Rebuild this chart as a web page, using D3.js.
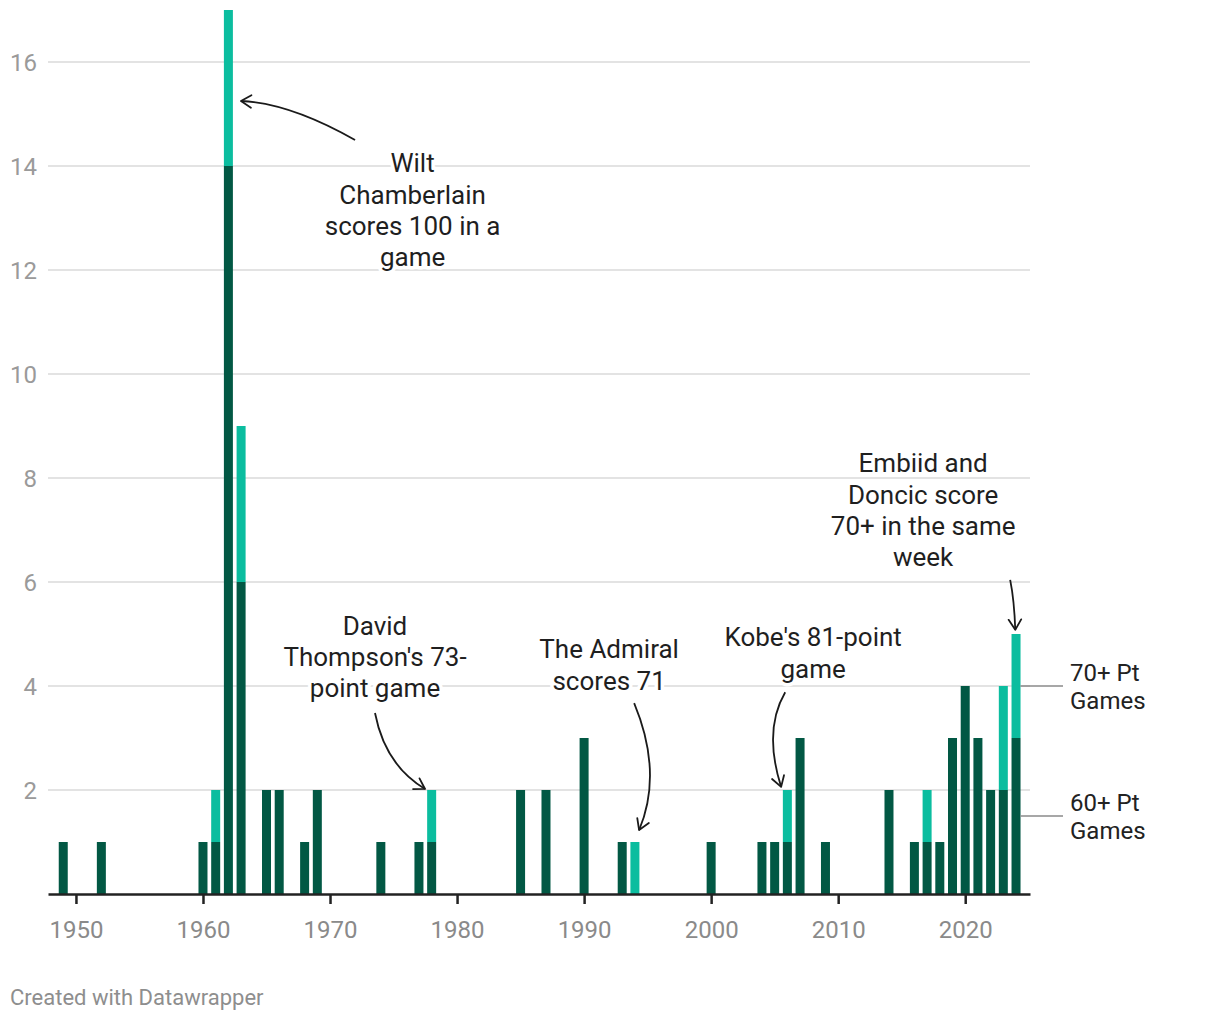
<!DOCTYPE html>
<html>
<head>
<meta charset="utf-8">
<script src="https://cdn.jsdelivr.net/npm/d3@7"></script>
<style>
  html, body { margin: 0; padding: 0; background: #fff; }
  svg { display: block; font-family: Roboto, "Noto Sans", sans-serif; }
</style>
</head>
<body>
<svg id="chart" width="1220" height="1020"></svg>
<script>
// ---- data ----
const years = [1949,1952,1960,1961,1962,1963,1965,1966,1968,1969,1974,1977,1978,1985,1987,1990,1993,1994,2000,2004,2005,2006,2007,2009,2014,2016,2017,2018,2019,2020,2021,2022,2023,2024];
const games60 = [1,1,1,1,14,6,2,2,1,2,1,1,1,2,2,3,1,0,1,1,1,1,3,1,2,1,1,1,3,4,3,2,2,3];
const games70 = [0,0,0,1,3,3,0,0,0,0,0,0,1,0,0,0,0,1,0,0,0,1,0,0,0,0,1,0,0,0,0,0,2,2];
const seriesNames = ["60+ Pt Games", "70+ Pt Games"];
const yTicks = [2,4,6,8,10,12,14,16];
const xTicks = [1950,1960,1970,1980,1990,2000,2010,2020];
const annotations = [
  {lines:["Wilt","Chamberlain","scores 100 in a","game"], x:1976.5, y:14.06,
   arrow:{s:[1971.97,14.5], c:[1966.85,15.21], e:[1962.99,15.25]}},
  {lines:["David","Thompson's 73-","point game"], x:1973.54, y:5.17,
   arrow:{s:[1973.54,3.48], c:[1974.33,2.48], e:[1977.48,2.02]}},
  {lines:["The Admiral","scores 71"], x:1991.97, y:4.71,
   arrow:{s:[1993.94,3.67], c:[1996.22,2.33], e:[1994.33,1.23]}},
  {lines:["Kobe's 81-point","game"], x:2008.03, y:4.94,
   arrow:{s:[2005.83,3.88], c:[2004.09,3.15], e:[2005.51,2.06]}},
  {lines:["Embiid and","Doncic score","70+ in the same","week"], x:2016.69, y:8.29,
   arrow:{s:[2023.54,6.04], c:[2023.86,5.65], e:[2023.94,5.08]}}
];
const footer = "Created with Datawrapper";

// ---- layout ----
const colors = ["#025844", "#0bbd9f"];
const svg = d3.select("#chart");
const x = d3.scaleLinear().domain([1947.8, 2025.1]).range([48, 1030]);
const y = d3.scaleLinear().domain([0, 17]).range([894, 10]);
const barW = 9;

const rows = years.map((yr, i) => ({year: yr, a: games60[i], b: games70[i]}));

// gridlines
svg.append("g").selectAll("line").data(yTicks).join("line")
  .attr("x1", x.range()[0]).attr("x2", x.range()[1])
  .attr("y1", d => y(d)).attr("y2", d => y(d))
  .attr("stroke", "#e3e3e3").attr("stroke-width", 2);

// y labels
svg.append("g").selectAll("text").data(yTicks).join("text")
  .attr("x", 37).attr("y", d => y(d)).attr("dy", "0.36em")
  .attr("text-anchor", "end").attr("font-size", 24).attr("fill", "#9a9a9a")
  .text(d => d);

// bars (stacked)
const stack = d3.stack().keys(["a","b"])(rows);
svg.append("g").selectAll("g").data(stack).join("g")
  .attr("fill", (d, i) => colors[i])
  .selectAll("rect").data(d => d.filter(v => v[1] > v[0])).join("rect")
  .attr("x", d => x(d.data.year) - barW / 2)
  .attr("width", barW)
  .attr("y", d => y(d[1]))
  .attr("height", d => y(d[0]) - y(d[1]));

// x axis
const xAxis = svg.append("g").attr("transform", `translate(0,${y(0)})`)
  .call(d3.axisBottom(x).tickValues(xTicks).tickFormat(d3.format("d"))
    .tickSizeInner(10).tickSizeOuter(0).tickPadding(17));
xAxis.select(".domain").attr("stroke", "#222").attr("stroke-width", 2.5);
xAxis.selectAll(".tick line").attr("stroke", "#222").attr("stroke-width", 2.5);
xAxis.selectAll(".tick text").attr("font-size", 24).attr("fill", "#8a8a8a")
  .attr("font-family", "Roboto, sans-serif");

// annotations
const lh = 31.3;
const ag = svg.append("g");
annotations.forEach(a => {
  const t = ag.append("text")
    .attr("text-anchor", "middle").attr("font-size", 26).attr("fill", "#1f1f1f")
    .attr("stroke", "#fff").attr("stroke-width", 7).attr("stroke-linejoin", "round")
    .attr("paint-order", "stroke");
  a.lines.forEach((ln, i) => {
    t.append("tspan").attr("x", x(a.x)).attr("y", y(a.y) + i * lh).attr("dy", "0.36em").text(ln);
  });
  const s = [x(a.arrow.s[0]), y(a.arrow.s[1])];
  const c = [x(a.arrow.c[0]), y(a.arrow.c[1])];
  const e = [x(a.arrow.e[0]), y(a.arrow.e[1])];
  const p = d3.path();
  p.moveTo(s[0], s[1]);
  p.quadraticCurveTo(c[0], c[1], e[0], e[1]);
  const ang = Math.atan2(e[1] - c[1], e[0] - c[0]);
  const L = 12, spread = 0.55;
  const h = d3.path();
  h.moveTo(e[0] - L * Math.cos(ang - spread), e[1] - L * Math.sin(ang - spread));
  h.lineTo(e[0], e[1]);
  h.lineTo(e[0] - L * Math.cos(ang + spread), e[1] - L * Math.sin(ang + spread));
  ag.append("path").attr("d", p.toString()).attr("fill", "none")
    .attr("stroke", "#1a1a1a").attr("stroke-width", 1.8);
  ag.append("path").attr("d", h.toString()).attr("fill", "none")
    .attr("stroke", "#1a1a1a").attr("stroke-width", 1.8).attr("stroke-linejoin", "round").attr("stroke-linecap", "round");
});

// direct labels for series (on last bar)
const last = rows[rows.length - 1];
const labelY = [y(last.a / 2), y(last.a + last.b / 2)];
const lg = svg.append("g");
seriesNames.forEach((name, i) => {
  lg.append("line").attr("x1", x(last.year) + barW / 2).attr("x2", 1063)
    .attr("y1", labelY[i]).attr("y2", labelY[i])
    .attr("stroke", "#8a8a8a").attr("stroke-width", 1.5);
  const words = name.split(" ");
  const lines = [words.slice(0, 2).join(" "), words.slice(2).join(" ")];
  const t = lg.append("text").attr("font-size", 24).attr("fill", "#222");
  lines.forEach((ln, j) => {
    t.append("tspan").attr("x", 1070).attr("y", labelY[i] + (j - 0.5) * 28).attr("dy", "0.36em").text(ln);
  });
});

// footer
svg.append("text").attr("x", 10).attr("y", 997).attr("dy", "0.36em")
  .attr("font-size", 22).attr("fill", "#8e8e8e").text(footer);
</script>
</body>
</html>
